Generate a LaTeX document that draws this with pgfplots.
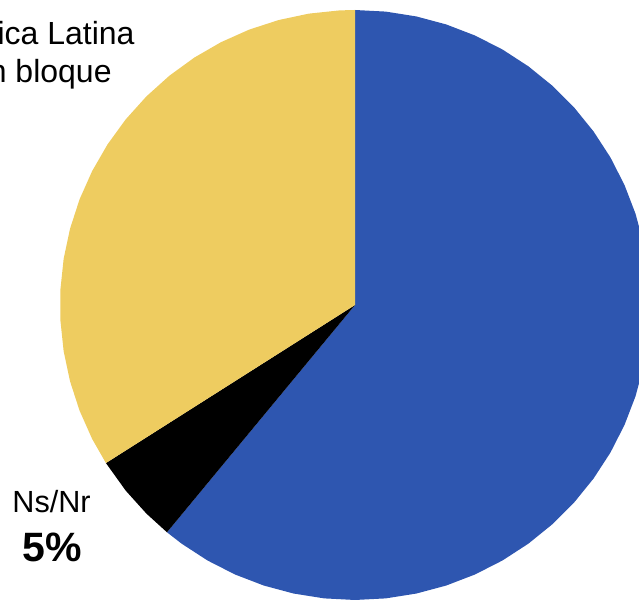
\documentclass[border=0pt]{standalone}
\usepackage{pgfplots}
\pgfplotsset{compat=1.18}
\usepackage{fontspec}
\setmainfont{Liberation Sans}
\definecolor{pieblue}{RGB}{46,86,176}
\definecolor{pieyellow}{RGB}{238,204,96}
\begin{document}
\begin{tikzpicture}
\useasboundingbox (0,0) rectangle (319.5pt,300pt);
\clip (0,0) rectangle (319.5pt,300pt);
\begin{axis}[
  at={(0,0)}, anchor=south west,
  width=319.5pt, height=300pt, scale only axis,
  xmin=-1.2034, xmax=0.9627, ymin=-1.0, ymax=1.0339,
  hide axis, clip=false,
]
% Blue slice: 61%  (90 deg -> -129.6 deg)
\addplot[draw=none, fill=pieblue, data cs=polar] coordinates {
 (0,0) (90,1) (84,1) (78,1) (72,1) (66,1) (60,1) (54,1) (48,1) (42,1) (36,1)
 (30,1) (24,1) (18,1) (12,1) (6,1) (0,1) (-6,1) (-12,1) (-18,1) (-24,1)
 (-30,1) (-36,1) (-42,1) (-48,1) (-54,1) (-60,1) (-66,1) (-72,1) (-78,1)
 (-84,1) (-90,1) (-96,1) (-102,1) (-108,1) (-114,1) (-120,1) (-126,1) (-129.6,1)
} -- cycle;
% Black slice: 5%  (-129.6 -> -147.6)
\addplot[draw=none, fill=black, data cs=polar] coordinates {
 (0,0) (-129.6,1) (-135,1) (-141,1) (-147.6,1)
} -- cycle;
% Yellow slice: 34%  (-147.6 -> -270)
\addplot[draw=none, fill=pieyellow, data cs=polar] coordinates {
 (0,0) (-147.6,1) (-153,1) (-159,1) (-165,1) (-171,1) (-177,1) (-183,1)
 (-189,1) (-195,1) (-201,1) (-207,1) (-213,1) (-219,1) (-225,1) (-231,1)
 (-237,1) (-243,1) (-249,1) (-255,1) (-261,1) (-267,1) (-270,1)
} -- cycle;
\node[anchor=base east, inner sep=0pt, font=\fontsize{16}{19}\selectfont] at (axis cs:-0.7458,0.8814) {América Latina};
\node[anchor=base east, inner sep=0pt, font=\fontsize{16}{19}\selectfont] at (axis cs:-0.8237,0.7559) {en bloque};
\node[anchor=base, inner sep=0pt, font=\fontsize{15.3}{18}\selectfont] at (axis cs:-1.0288,-0.7051) {Ns/Nr};
\node[anchor=base, inner sep=0pt, font=\fontsize{20.5}{24}\selectfont\bfseries] at (axis cs:-1.0254,-0.8712) {5\%};
\end{axis}
\end{tikzpicture}
\end{document}
